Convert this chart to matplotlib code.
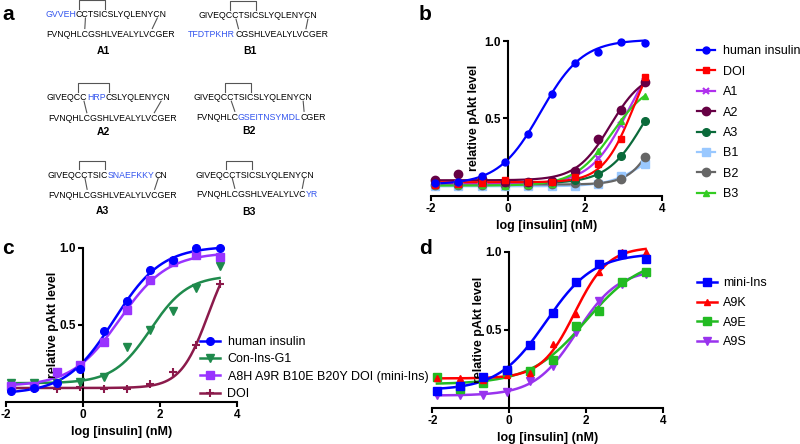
import numpy as np
import matplotlib
matplotlib.use('Agg')
import matplotlib.pyplot as plt
from matplotlib.lines import Line2D
from matplotlib.transforms import blended_transform_factory

plt.rcParams['font.family'] = ['Liberation Sans', 'DejaVu Sans']

# ---------------- data ----------------
log_conc = [-1.88, -1.28, -0.68, -0.07, 0.53, 1.13, 1.74, 2.34, 2.94, 3.54]

# panel b
b_labels = ['human insulin', 'DOI', 'A1', 'A2', 'A3', 'B1', 'B2', 'B3']
b_human = [0.084, 0.090, 0.130, 0.215, 0.400, 0.659, 0.859, 0.927, 0.996, 0.990]
b_doi = [0.069, 0.075, 0.080, 0.100, 0.086, 0.086, 0.122, 0.202, 0.365, 0.766]
b_a1 = [0.080, 0.080, 0.080, 0.080, 0.080, 0.085, 0.130, 0.245, 0.455, 0.740]
b_a2 = [0.100, 0.138, 0.110, 0.090, 0.090, 0.095, 0.159, 0.365, 0.552, 0.734]
b_a3 = [0.080, 0.080, 0.080, 0.080, 0.080, 0.085, 0.100, 0.138, 0.258, 0.481]
b_b1 = [0.060, 0.060, 0.060, 0.060, 0.065, 0.065, 0.065, 0.073, 0.129, 0.202]
b_b2 = [0.070, 0.070, 0.070, 0.070, 0.070, 0.075, 0.080, 0.085, 0.110, 0.247]
b_b3 = [0.070, 0.070, 0.070, 0.065, 0.070, 0.075, 0.159, 0.288, 0.483, 0.644]

# panel c
c_labels = ['human insulin', 'Con-Ins-G1', 'A8H A9R B10E B20Y DOI (mini-Ins)', 'DOI']
c_human = [0.070, 0.090, 0.120, 0.210, 0.460, 0.653, 0.856, 0.920, 0.995, 0.995]
c_conins = [0.120, 0.120, 0.120, 0.130, 0.162, 0.356, 0.463, 0.586, 0.739, 0.884]
c_mini = [0.100, 0.100, 0.194, 0.237, 0.388, 0.593, 0.791, 0.905, 0.955, 0.942]
c_doi = [0.076, 0.080, 0.080, 0.097, 0.080, 0.085, 0.114, 0.194, 0.366, 0.765]
# fitted curve for Con-Ins-G1 (bottom, top, logEC50, hill)
c_conins_fit = [0.12, 0.82, 1.75, 0.9]

# panel d
d_labels = ['mini-Ins', 'A9K', 'A9E', 'A9S']
d_mini = [0.108, 0.136, 0.200, 0.244, 0.399, 0.610, 0.808, 0.918, 0.983, 0.955]
d_a9k = [0.190, 0.190, 0.179, 0.207, 0.222, 0.410, 0.600, 0.873, 1.000, 1.000]
d_a9e = [0.200, 0.119, 0.158, 0.230, 0.233, 0.308, 0.524, 0.620, 0.808, 0.873]
d_a9s = [0.082, 0.082, 0.082, 0.100, 0.168, 0.265, 0.485, 0.685, 0.793, 0.858]

# panel a sequences
a_names = ['A1', 'A2', 'A3', 'B1', 'B2', 'B3']
a_top = [
    [('GVVEH', 1), ('CCTSICSLYQLENYCN', 0)],
    [('GIVEQCC', 0), ('HRP', 1), ('CSLYQLENYCN', 0)],
    [('GIVEQCCTSIC', 0), ('SNAEFKKY', 1), ('CN', 0)],
    [('GIVEQCCTSICSLYQLENYCN', 0)],
    [('GIVEQCCTSICSLYQLENYCN', 0)],
    [('GIVEQCCTSICSLYQLENYCN', 0)],
]
a_bottom = [
    [('FVNQHLCGSHLVEALYLVCGER', 0)],
    [('FVNQHLCGSHLVEALYLVCGER', 0)],
    [('FVNQHLCGSHLVEALYLVCGER', 0)],
    [('TFDTPKHR', 1), ('CGSHLVEALYLVCGER', 0)],
    [('FVNQHLC', 0), ('GSEITNSYMDL', 1), ('CGER', 0)],
    [('FVNQHLCGSHLVEALYLVC', 0), ('YR', 1)],
]

# ---------------- helpers ----------------
def fit4pl(x, y):
    x = np.asarray(x, float)
    y = np.asarray(y, float)
    ec = np.linspace(-1.0, 5.5, 131)[:, None, None, None]
    hs = np.linspace(0.5, 3.0, 26)[None, :, None, None]
    tops = np.linspace(0.3, 1.05, 38)[None, None, :, None]
    S = 1.0 / (1.0 + 10 ** ((ec - x) * hs))
    R = y - tops * S
    W = 1.0 - S
    b = (R * W).sum(-1, keepdims=True) / (W * W).sum(-1, keepdims=True)
    sse = ((R - b * W) ** 2).sum(-1)
    i, j, k = np.unravel_index(np.argmin(sse), sse.shape)
    return (b[i, j, k, 0], tops[0, 0, k, 0], ec[i, 0, 0, 0], hs[0, j, 0, 0])


def curve(x, y, params=None):
    bot, top, e, h = params if params is not None else fit4pl(x, y)
    xx = np.linspace(min(x), max(x), 300)
    return xx, bot + (top - bot) / (1 + 10 ** ((e - xx) * h))


W_PX, H_PX = 800, 444
fig = plt.figure(figsize=(8, 4.44), dpi=100)
renderer = fig.canvas.get_renderer()

ax0 = fig.add_axes([0, 0, 1, 1])
ax0.set_xlim(0, W_PX)
ax0.set_ylim(H_PX, 0)
ax0.axis('off')

SEQ_FS = 6.3
BLUE_T = '#3355ee'
LINE_C = '#555555'


def measure(s):
    if not s:
        return 0.0
    t = ax0.text(0, 0, s, fontsize=SEQ_FS)
    w = t.get_window_extent(renderer=renderer).width
    t.remove()
    return w


def draw_seq(x, y, segs):
    full = ''.join(s for s, _ in segs)
    cx = x
    for s, blue in segs:
        ax0.text(cx, y, s, fontsize=SEQ_FS, color=BLUE_T if blue else 'black',
                 ha='left', va='center_baseline')
        cx += measure(s)
    cs = [i for i, ch in enumerate(full) if ch == 'C']
    centers = [x + measure(full[:i]) + measure(full[i]) / 2 for i in cs]
    return centers


top_pos = [(45, 13.5), (46.7, 96.7), (47.7, 174), (198.7, 14.7), (194, 96.7), (195, 174)]
bot_pos = [(46, 33.5), (48, 117.7), (48.3, 194.3), (188.3, 33.7), (196, 116.3), (196, 193.3)]
lab_pos = [(103, 50.7), (103, 131.7), (102.7, 210.7), (250, 51), (249.3, 130.7), (249, 211.7)]

for n in range(6):
    tx, ty = top_pos[n]
    bx, by = bot_pos[n]
    tc = draw_seq(tx, ty, a_top[n])
    bc = draw_seq(bx, by, a_bottom[n])
    capt = ty - 4.5
    brk = ty - 13.4
    ax0.plot([tc[0], tc[0], tc[2], tc[2]], [capt, brk, brk, capt], color=LINE_C, lw=0.8)
    ax0.plot([tc[1], bc[0]], [ty + 4.5, by - 5], color=LINE_C, lw=0.8)
    ax0.plot([tc[3], bc[1]], [ty + 4.5, by - 5], color=LINE_C, lw=0.8)
    lx, ly = lab_pos[n]
    ax0.text(lx, ly, a_names[n], fontsize=7.5, fontweight='bold', ha='center', va='center')

for letter, (px, py) in zip('abcd', [(8, 14), (425, 14), (8, 248), (426, 248)]):
    ax0.text(px, py, letter, fontsize=15, fontweight='bold', ha='center', va='center')


def make_ax(left, top, right, bottom, ylab_x):
    ax = fig.add_axes([left / W_PX, 1 - bottom / H_PX, (right - left) / W_PX, (bottom - top) / H_PX])
    ax.patch.set_alpha(0)
    ax.set_xlim(-2, 4)
    ax.set_ylim(0, 1)
    ax.spines['top'].set_visible(False)
    ax.spines['right'].set_visible(False)
    ax.spines['left'].set_position(('data', 0))
    for s in ('left', 'bottom'):
        ax.spines[s].set_linewidth(1.5)
    ax.set_xticks([-2, 0, 2, 4])
    ax.set_xticklabels(['-2', '0', '2', '4'])
    ax.set_yticks([0.5, 1.0])
    ax.set_yticklabels(['0.5', '1.0'])
    ax.tick_params(direction='out', length=3.6, width=1.5, labelsize=8.5, pad=1.5)
    for lab in ax.get_xticklabels() + ax.get_yticklabels():
        lab.set_fontweight('bold')
    ax.set_xlabel('log [insulin] (nM)', fontsize=9, fontweight='bold', labelpad=4)
    tr = blended_transform_factory(ax.transData, ax.transAxes)
    ax.text(ylab_x, 0.5, 'relative pAkt level', transform=tr, rotation=90,
            ha='center', va='center', fontsize=9, fontweight='bold')
    return ax


def plot_series(ax, y, color, marker, ms, lw=1.6, mew=1.0, params=None):
    xx, yy = curve(log_conc, y, params)
    ax.plot(xx, yy, color=color, lw=lw, clip_on=False, zorder=2)
    ax.plot(log_conc, y, ls='none', marker=marker, color=color, ms=ms, mew=mew,
            clip_on=False, zorder=3)
    return Line2D([], [], color=color, lw=lw, marker=marker, ms=ms, mew=mew)


# ---------------- panel b ----------------
axb = make_ax(430.7, 41, 662.3, 195.7, -0.87)
b_series = [b_human, b_doi, b_a1, b_a2, b_a3, b_b1, b_b2, b_b3]
b_colors = ['#0000ff', '#ff0000', '#b030ee', '#660044', '#0a6a3a', '#99c8ff', '#666666', '#33cc22']
b_markers = ['o', 's', 'x', 'o', 'o', 's', 'o', '^']
b_ms = [5, 5, 5, 6, 5.5, 5.5, 6, 5]
handles = [None] * 8
for i in [5, 6, 4, 2, 7, 3, 1, 0]:
    handles[i] = plot_series(axb, b_series[i], b_colors[i], b_markers[i], b_ms[i],
                             mew=1.5 if b_markers[i] == 'x' else 1.0)
fig.legend(handles, b_labels, loc='upper left', bbox_to_anchor=(697 / W_PX, 1 - 45.5 / H_PX),
           bbox_transform=fig.transFigure, frameon=False, fontsize=9, handlelength=1.45,
           handletextpad=0.65, labelspacing=0.67, borderpad=0, borderaxespad=0)

# ---------------- panel c ----------------
axc = make_ax(6, 247.7, 237.3, 401.7, -0.79)
c_series = [c_human, c_conins, c_mini, c_doi]
c_colors = ['#0000ff', '#1f8a4c', '#9933ff', '#8b1a4b']
c_markers = ['o', 'v', 's', '+']
c_ms = [5.5, 6, 6, 6]
c_params = [None, c_conins_fit, None, None]
handles = [None] * 4
for i in [3, 1, 2, 0]:
    handles[i] = plot_series(axc, c_series[i], c_colors[i], c_markers[i], c_ms[i], lw=1.8,
                             mew=1.5 if c_markers[i] == '+' else 1.0, params=c_params[i])
fig.legend(handles, c_labels, loc='upper left', bbox_to_anchor=(200 / W_PX, 1 - 336 / H_PX),
           bbox_transform=fig.transFigure, frameon=False, fontsize=9, handlelength=1.6,
           handletextpad=0.6, labelspacing=0.43, borderpad=0, borderaxespad=0)

# ---------------- panel d ----------------
axd = make_ax(432.3, 251.7, 663.3, 407.7, -0.79)
d_series = [d_mini, d_a9k, d_a9e, d_a9s]
d_colors = ['#0000ff', '#ff0000', '#22bb22', '#9933ee']
d_markers = ['s', '^', 's', 'v']
d_ms = [5.5, 5, 6, 6]
handles = [None] * 4
for i in [3, 2, 1, 0]:
    handles[i] = plot_series(axd, d_series[i], d_colors[i], d_markers[i], d_ms[i], lw=1.8)
fig.legend(handles, d_labels, loc='upper left', bbox_to_anchor=(697 / W_PX, 1 - 277.5 / H_PX),
           bbox_transform=fig.transFigure, frameon=False, fontsize=9, handlelength=1.6,
           handletextpad=0.5, labelspacing=0.61, borderpad=0, borderaxespad=0)

fig.savefig('out.png', dpi=100)
